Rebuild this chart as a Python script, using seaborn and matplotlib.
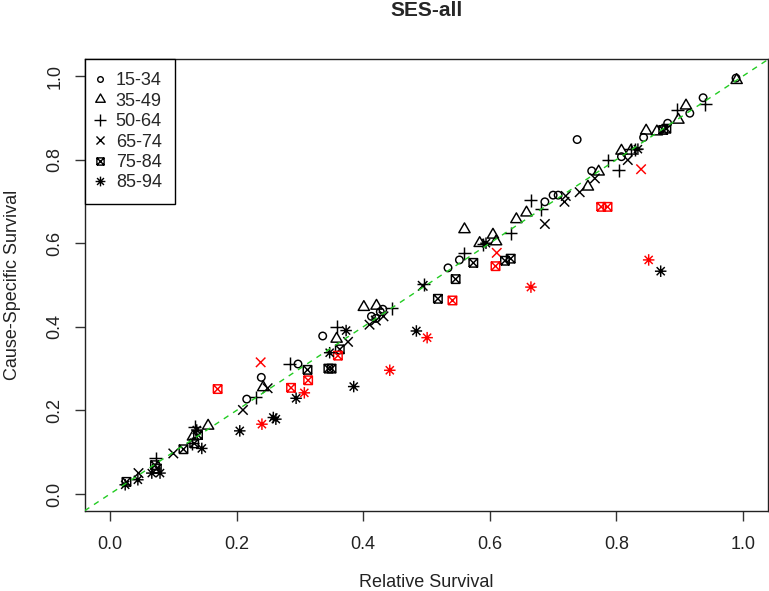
import numpy as np
import pandas as pd
import matplotlib
matplotlib.use("Agg")
import matplotlib.pyplot as plt
from matplotlib.path import Path
from matplotlib.lines import Line2D
import seaborn as sns

# ---------------- data (Relative Survival, Cause-Specific Survival) ----------------
groups = ["15-34", "35-49", "50-64", "65-74", "75-84", "85-94"]

rs_1534 = [0.989, 0.937, 0.916, 0.881, 0.843, 0.808, 0.761, 0.738, 0.700, 0.708, 0.687,
           0.552, 0.534, 0.431, 0.427, 0.420, 0.413, 0.336, 0.297, 0.239, 0.216]
cs_1534 = [0.995, 0.948, 0.911, 0.887, 0.853, 0.807, 0.773, 0.848, 0.715, 0.715, 0.699,
           0.560, 0.541, 0.442, 0.436, 0.420, 0.425, 0.378, 0.311, 0.279, 0.227]
red_1534 = [0] * 21

rs_3549 = [0.990, 0.910, 0.898, 0.864, 0.847, 0.808, 0.823, 0.772, 0.755, 0.658, 0.642,
           0.610, 0.605, 0.584, 0.560, 0.421, 0.401, 0.358, 0.242, 0.155, 0.131]
cs_3549 = [0.990, 0.929, 0.895, 0.867, 0.869, 0.821, 0.821, 0.771, 0.735, 0.673, 0.657,
           0.604, 0.620, 0.600, 0.633, 0.450, 0.447, 0.371, 0.255, 0.163, 0.137]
red_3549 = [0] * 21

rs_5064 = [0.940, 0.896, 0.823, 0.830, 0.787, 0.804, 0.665, 0.681, 0.633, 0.590, 0.560,
           0.496, 0.445, 0.358, 0.284, 0.230, 0.134, 0.130, 0.072]
cs_5064 = [0.932, 0.919, 0.825, 0.825, 0.799, 0.775, 0.703, 0.681, 0.624, 0.597, 0.576,
           0.502, 0.444, 0.400, 0.311, 0.231, 0.161, 0.121, 0.085]
red_5064 = [0] * 19

rs_6574 = [0.818, 0.766, 0.742, 0.720, 0.718, 0.687, 0.494, 0.432, 0.420, 0.410, 0.376,
           0.249, 0.210, 0.100, 0.045, 0.238, 0.611, 0.839]
cs_6574 = [0.799, 0.755, 0.722, 0.713, 0.699, 0.646, 0.498, 0.425, 0.415, 0.405, 0.364,
           0.253, 0.201, 0.097, 0.050, 0.315, 0.577, 0.777]
red_6574 = [0] * 15 + [1, 1, 1]

rs_7584 = [0.874, 0.879, 0.624, 0.633, 0.574, 0.546, 0.518, 0.363, 0.345, 0.350, 0.312,
           0.139, 0.133, 0.116, 0.071, 0.074, 0.026,
           0.170, 0.286, 0.313, 0.360, 0.541, 0.609, 0.776, 0.786]
cs_7584 = [0.871, 0.874, 0.558, 0.563, 0.553, 0.514, 0.467, 0.346, 0.300, 0.300, 0.297,
           0.141, 0.121, 0.107, 0.069, 0.061, 0.029,
           0.251, 0.254, 0.272, 0.331, 0.463, 0.545, 0.687, 0.687]
red_7584 = [0] * 17 + [1] * 8

rs_8594 = [0.834, 0.870, 0.594, 0.484, 0.385, 0.373, 0.347, 0.294, 0.258, 0.262, 0.205,
           0.137, 0.145, 0.066, 0.079, 0.044, 0.024,
           0.240, 0.307, 0.442, 0.501, 0.665, 0.851]
cs_8594 = [0.825, 0.533, 0.600, 0.390, 0.257, 0.391, 0.338, 0.229, 0.183, 0.179, 0.151,
           0.153, 0.109, 0.050, 0.050, 0.034, 0.022,
           0.167, 0.242, 0.296, 0.374, 0.495, 0.560]
red_8594 = [0] * 17 + [1] * 6

ticks = [0.0, 0.2, 0.4, 0.6, 0.8, 1.0]
tick_labels = ["0.0", "0.2", "0.4", "0.6", "0.8", "1.0"]

frames = []
for g, xs, ys, rd in zip(groups,
                         [rs_1534, rs_3549, rs_5064, rs_6574, rs_7584, rs_8594],
                         [cs_1534, cs_3549, cs_5064, cs_6574, cs_7584, cs_8594],
                         [red_1534, red_3549, red_5064, red_6574, red_7584, red_8594]):
    frames.append(pd.DataFrame({"rs": xs, "cs": ys, "red": rd, "age": g}))
df = pd.concat(frames, ignore_index=True)

# ---------------- marker shapes (R pch 1,2,3,4,7,8) ----------------
M, L, C = Path.MOVETO, Path.LINETO, Path.CLOSEPOLY
circle = Path.unit_circle()
tri = Path([(0, 1.555), (-1.347, -0.778), (1.347, -0.778), (0, 1.555), (0, 0)],
           [M, L, L, L, C])
plus = Path([(-1, 0), (1, 0), (0, -1), (0, 1)], [M, L, M, L])
cross = Path([(-1, -1), (1, 1), (-1, 1), (1, -1)], [M, L, M, L])
sqx = Path([(-1, -1), (1, -1), (1, 1), (-1, 1), (-1, -1),
            (-1, -1), (1, 1), (-1, 1), (1, -1)],
           [M, L, L, L, L, M, L, M, L])
d = 0.707
aster = Path([(-1, 0), (1, 0), (0, -1), (0, 1), (-d, -d), (d, d), (-d, d), (d, -d)],
             [M, L, M, L, M, L, M, L])
markers = dict(zip(groups, [circle, tri, plus, cross, sqx, aster]))
# full marker extent in pixels
ext_px = dict(zip(groups, [7.5, 13.0, 13.0, 9.5, 8.5, 11.5]))
px2pt = 72 / 100.0

sns.set_style("white")
plt.rcParams["font.family"] = ["Liberation Sans", "DejaVu Sans"]

fig = plt.figure(figsize=(7.69, 5.91), dpi=100)
ax = fig.add_axes([84.7 / 769, (591 - 510.7) / 591, (768.3 - 84.7) / 769, (510.7 - 59.3) / 591])

colors = {0: "black", 1: "#FF0000"}
for g in groups:
    for r in (0, 1):
        sub = df[(df.age == g) & (df.red == r)]
        if len(sub) == 0:
            continue
        sns.scatterplot(data=sub, x="rs", y="cs", marker=markers[g],
                        s=(ext_px[g] * px2pt) ** 2, color=colors[r],
                        facecolor="none", edgecolor=colors[r], linewidth=1.05,
                        legend=False, ax=ax, zorder=3)

ax.axline((0, 0), slope=1, color="#22cc22", lw=1.0, ls=(0, (4, 4)), zorder=4)

ax.set_xlim(-0.04, 1.04)
ax.set_ylim(-0.04, 1.04)
ax.set_xticks(ticks)
ax.set_xticklabels(tick_labels)
ax.set_yticks(ticks)
ax.set_yticklabels(tick_labels, rotation=90, va="center")
ax.tick_params(axis="both", direction="out", length=7.5, width=1.0, color="#333333",
               labelsize=13, labelcolor="#222222", bottom=True, left=True)
ax.tick_params(axis="x", pad=10.5)
ax.tick_params(axis="y", pad=8)
for sp in ax.spines.values():
    sp.set_visible(True)
    sp.set_color("#222222")
    sp.set_linewidth(1.0)

ax.set_xlabel("Relative Survival", fontsize=13, color="#222222")
ax.set_ylabel("Cause-Specific Survival", fontsize=13, color="#222222")
ax.xaxis.set_label_coords(0.5, (510.7 - 582.5) / 451.4)
ax.xaxis.label.set_va("center")
ax.yaxis.set_label_coords((12 - 84.7) / 683.6, 0.5)
ax.yaxis.label.set_va("center")
ax.set_title("SES-all", fontsize=15, fontweight="bold", y=(510.7 - 18.5) / 451.4, va="center")

handles = [Line2D([], [], linestyle="none", marker=markers[g], markerfacecolor="none",
                  markeredgecolor="black", markeredgewidth=1.0,
                  markersize=ext_px[g] * px2pt * (0.75 if g == "15-34" else 0.85))
           for g in groups]
leg = ax.legend(handles, groups, loc="upper left", bbox_to_anchor=(0, 1), borderaxespad=0,
                frameon=True, fancybox=False, edgecolor="black", fontsize=13,
                handlelength=0.25, handletextpad=0.75, labelspacing=0.19,
                borderpad=0.72, framealpha=1)
leg.get_frame().set_linewidth(1.0)

fig.savefig("out.png", dpi=100)
